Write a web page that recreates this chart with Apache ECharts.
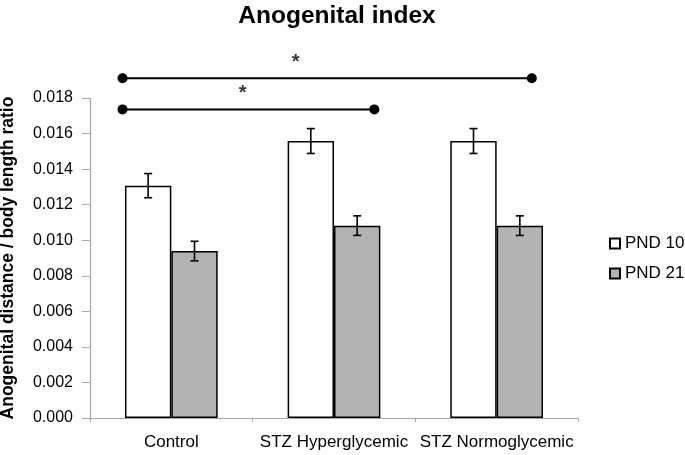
<!DOCTYPE html>
<html>
<head>
<meta charset="utf-8">
<script src="https://cdn.jsdelivr.net/npm/echarts@6/dist/echarts.min.js"></script>
<style>html,body{margin:0;padding:0;background:#fff;}#c{width:685px;height:455px;}</style>
</head>
<body>
<div id="c"></div>
<script>
var categories = ['Control', 'STZ Hyperglycemic', 'STZ Normoglycemic'];
var pnd10 = [0.01307, 0.01558, 0.01558];
var pnd10Err = [0.00068, 0.00070, 0.00070];
var pnd21 = [0.00939, 0.01082, 0.01082];
var pnd21Err = [0.00055, 0.00055, 0.00055];
var yTicks = [0, 0.002, 0.004, 0.006, 0.008, 0.010, 0.012, 0.014, 0.016, 0.018];
// significance brackets: [startX, endX, y, starX] in category units (hidden value axis)
var bracketUpper = [-0.30, 2.216, 0.01911, 0.764];
var bracketLower = [-0.30, 1.248, 0.01736, 0.439];

var FONT = 'Liberation Sans, Arial, Helvetica, sans-serif';
var chart = echarts.init(document.getElementById('c'), null, {renderer: 'canvas'});

function errSeries(vals, errs, idx) {
  return {
    type: 'custom',
    xAxisIndex: 0, yAxisIndex: 0,
    z: 5,
    silent: true,
    data: vals.map(function (v, i) { return [i, v, errs[i]]; }),
    renderItem: function (params, api) {
      var i = api.value(0), v = api.value(1), e = api.value(2);
      var band = api.size([1, 0])[0];
      var bw = band * 0.57 / 2;
      var cx = api.coord([i, v])[0] + (idx === 0 ? -bw / 2 : bw / 2);
      var top = api.coord([i, v + e])[1];
      var bot = api.coord([i, v - e])[1];
      var cap = 4;
      var st = {stroke: '#000', lineWidth: 1.6};
      return {type: 'group', children: [
        {type: 'line', shape: {x1: cx, y1: top, x2: cx, y2: bot}, style: st},
        {type: 'line', shape: {x1: cx - cap, y1: top, x2: cx + cap, y2: top}, style: st},
        {type: 'line', shape: {x1: cx - cap, y1: bot, x2: cx + cap, y2: bot}, style: st}
      ]};
    }
  };
}

function bracket(b) {
  return [{
    type: 'line', xAxisIndex: 1, yAxisIndex: 0, clip: false, silent: true,
    symbol: 'circle', symbolSize: 10, z: 6,
    itemStyle: {color: '#000'},
    lineStyle: {color: '#000', width: 2},
    data: [[b[0], b[2]], [b[1], b[2]]]
  }, {
    type: 'scatter', xAxisIndex: 1, yAxisIndex: 0, clip: false, silent: true,
    symbolSize: 0, z: 6,
    label: {show: true, position: 'top', distance: 6, formatter: '*', color: '#000',
      fontSize: 20, fontWeight: 'bold', fontFamily: FONT},
    data: [[b[3], b[2]]]
  }];
}

var option = {
  animation: false,
  backgroundColor: '#fff',
  title: {
    text: 'Anogenital index',
    left: 332, top: -1, textAlign: 'center',
    textStyle: {fontFamily: FONT, fontSize: 24.5, fontWeight: 'bold', color: '#000'}
  },
  legend: {
    orient: 'vertical', left: 604, top: 230,
    itemWidth: 10, itemHeight: 10, itemGap: 13, icon: 'rect',
    data: ['PND 10', 'PND 21'],
    textStyle: {fontFamily: FONT, fontSize: 17, color: '#000'}
  },
  grid: {left: 90, right: 107, top: 98, bottom: 37, containLabel: false, outerBoundsMode: 'none'},
  xAxis: [{
    type: 'category', data: categories,
    axisLine: {lineStyle: {color: '#a6a6a6', width: 1.2}},
    axisTick: {show: true, length: 4, lineStyle: {color: '#a6a6a6'}},
    axisLabel: {fontFamily: FONT, fontSize: 17, color: '#000', margin: 16, interval: 0}
  }, {
    type: 'value', min: -0.5, max: 2.5, show: false
  }],
  yAxis: {
    type: 'value', min: 0, max: 0.018, interval: 0.002,
    name: 'Anogenital distance / body length ratio',
    nameLocation: 'middle', nameGap: 73, nameRotate: 90,
    nameTextStyle: {fontFamily: FONT, fontSize: 17.5, fontWeight: 'bold', color: '#000'},
    axisLine: {show: true, onZero: false, lineStyle: {color: '#a6a6a6', width: 1.2}},
    axisTick: {show: true, length: 8, lineStyle: {color: '#a6a6a6'}},
    splitLine: {show: false},
    axisLabel: {fontFamily: FONT, fontSize: 16, color: '#000', margin: 17,
      formatter: function (v) { return v.toFixed(3); }}
  },
  series: [{
    name: 'PND 10', type: 'bar', data: pnd10,
    barCategoryGap: '43%', barGap: '0%',
    itemStyle: {color: '#ffffff', borderColor: '#000', borderWidth: 1.5}
  }, {
    name: 'PND 21', type: 'bar', data: pnd21,
    itemStyle: {color: '#b3b3b3', borderColor: '#000', borderWidth: 1.5}
  },
  errSeries(pnd10, pnd10Err, 0),
  errSeries(pnd21, pnd21Err, 1)
  ].concat(bracket(bracketUpper)).concat(bracket(bracketLower))
};
chart.setOption(option);
</script>
</body>
</html>
